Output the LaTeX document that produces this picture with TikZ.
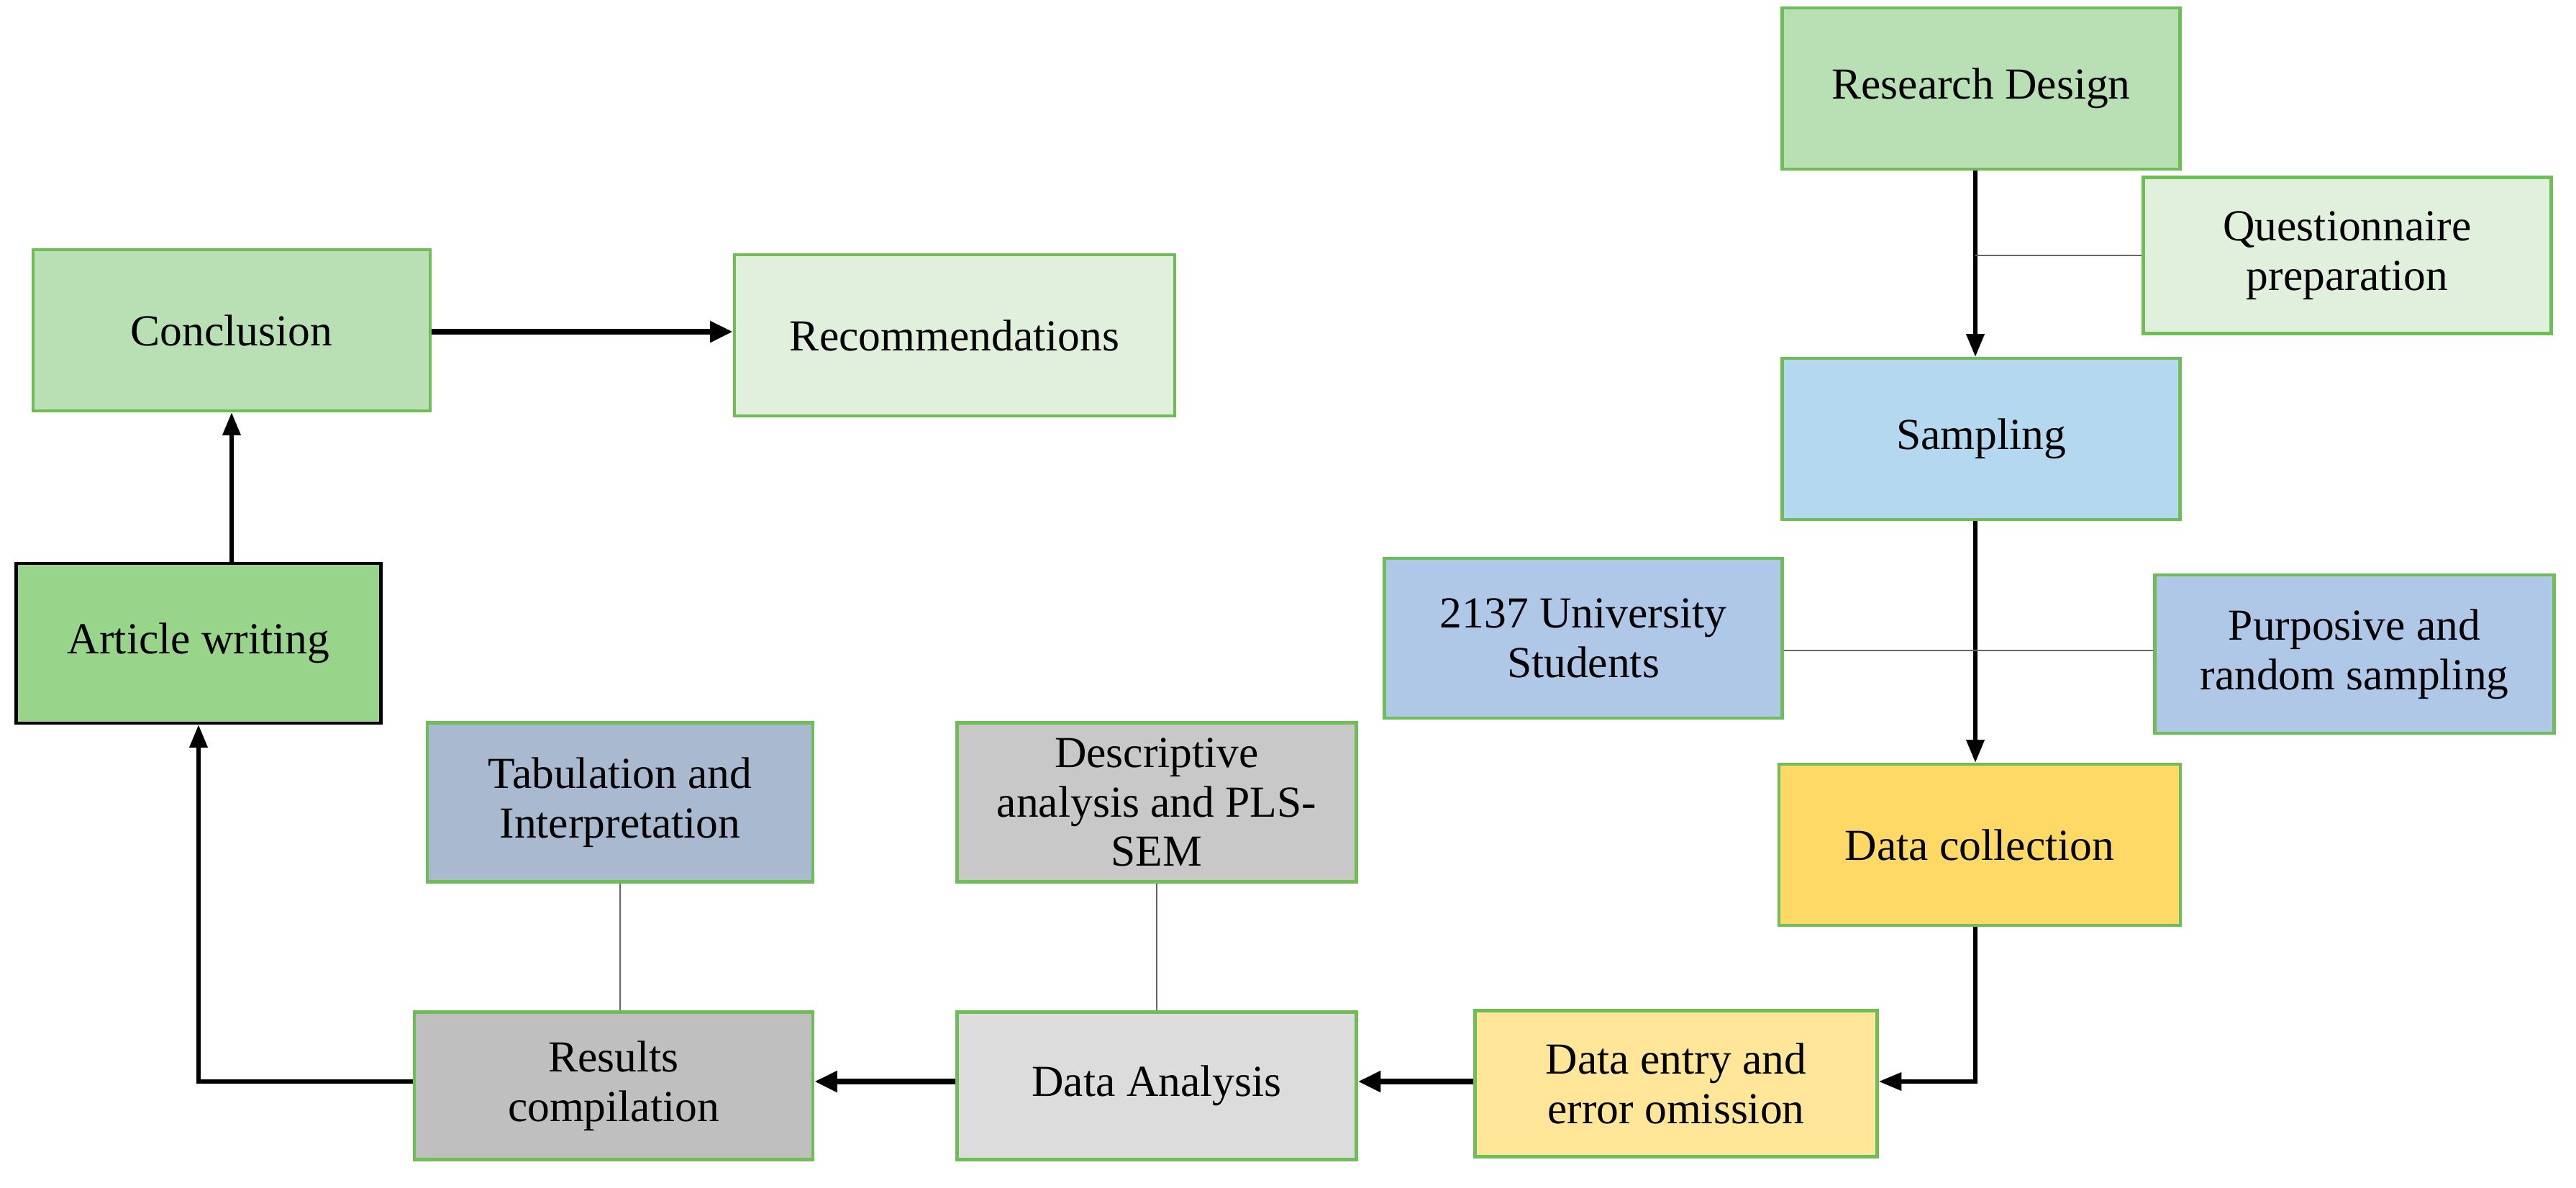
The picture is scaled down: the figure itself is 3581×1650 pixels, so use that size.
\documentclass[tikz,border=0pt]{standalone}
\usepackage{fontspec}
\setmainfont{Liberation Serif}
\usepackage{xcolor}
\usepackage{tikz}
\usetikzlibrary{arrows.meta,positioning}
\definecolor{borde}{HTML}{6DBE57}
\definecolor{verde}{HTML}{B9E0B4}
\definecolor{verdeclaro}{HTML}{E0F0DC}
\definecolor{verdefuerte}{HTML}{98D48A}
\definecolor{celeste}{HTML}{B4D8F0}
\definecolor{azul}{HTML}{AFC8E8}
\definecolor{amarillo}{HTML}{FFD966}
\definecolor{amarilloclaro}{HTML}{FFE699}
\definecolor{grisclaro}{HTML}{DCDCDC}
\definecolor{gris}{HTML}{C8C8C8}
\definecolor{grisoscuro}{HTML}{BFBFBF}
\definecolor{pizarra}{HTML}{A9B9CF}

\begin{document}
\begin{tikzpicture}[x=0.01cm, y=-0.01cm,
  caja/.style={draw=borde, line width=1.3pt, align=center, inner sep=2pt,
               font=\fontsize{17.5}{19.5}\selectfont},
  flecha/.style={-{Triangle[length=9pt,width=7pt]}, line width=1.5pt, black},
  flechag/.style={-{Triangle[length=9pt,width=8pt]}, line width=2.2pt, black},
  enlace/.style={draw=black!60, line width=0.6pt}]
\useasboundingbox (0,0) rectangle (3581,1650);
% right column
\node[caja, fill=verde, minimum width=553*0.01cm, minimum height=224*0.01cm] (rd) at (2754,123) {Research Design};
\node[caja, fill=verdeclaro, minimum width=567*0.01cm, minimum height=217*0.01cm] (qp) at (3263,355) {Questionnaire\\preparation};
\node[caja, fill=celeste, minimum width=553*0.01cm, minimum height=224*0.01cm] (sm) at (2754,610) {Sampling};
\node[caja, fill=azul, minimum width=553*0.01cm, minimum height=222*0.01cm] (us) at (2201,887) {2137 University\\Students};
\node[caja, fill=azul, minimum width=555*0.01cm, minimum height=220*0.01cm] (pr) at (3273,909) {Purposive and\\random sampling};
\node[caja, fill=amarillo, minimum width=558*0.01cm, minimum height=224*0.01cm] (dc) at (2752,1174) {Data collection};
% bottom row
\node[caja, fill=amarilloclaro, minimum width=559*0.01cm, minimum height=203*0.01cm] (de) at (2330,1506) {Data entry and\\error omission};
\node[caja, fill=grisclaro, minimum width=555*0.01cm, minimum height=205*0.01cm] (da) at (1608,1509) {Data Analysis};
\node[caja, fill=gris, minimum width=555*0.01cm, minimum height=221*0.01cm] (ds) at (1608,1115) {Descriptive\\analysis and PLS-\\SEM};
\node[caja, fill=grisoscuro, minimum width=554*0.01cm, minimum height=205*0.01cm] (rc) at (853,1509) {Results\\compilation};
\node[caja, fill=pizarra, minimum width=536*0.01cm, minimum height=221*0.01cm] (ti) at (862,1115) {Tabulation and\\Interpretation};
% left column
\node[caja, draw=black, fill=verdefuerte, minimum width=507*0.01cm, minimum height=222*0.01cm] (aw) at (276,894) {Article writing};
\node[caja, fill=verde, minimum width=552*0.01cm, minimum height=224*0.01cm] (co) at (322,459) {Conclusion};
\node[caja, fill=verdeclaro, minimum width=612*0.01cm, minimum height=224*0.01cm] (re) at (1327,466) {Recommendations};
% flow
\draw[flecha] (rd.south -| 2746,0) -- (sm.north -| 2746,0);
\draw[enlace] (qp.west) -- (qp.west -| 2746,0);
\draw[flecha] (sm.south -| 2746,0) -- (dc.north -| 2746,0);
\draw[enlace] (us.east |- 0,904) -- (pr.west |- 0,904);
\draw[flecha] (dc.south -| 2746,0) |- (de.east |- 0,1503);
\draw[flechag] (de.west |- 0,1503) -- (da.east |- 0,1503);
\draw[flechag] (da.west |- 0,1503) -- (rc.east |- 0,1503);
\draw[enlace] (ds) -- (da);
\draw[enlace] (ti.south) -- (ti.south |- rc.north);
\draw[flecha] (rc.west |- 0,1503) -| (aw.south);
\draw[flecha] (aw.north -| co.south) -- (co.south);
\draw[flechag] (co.east |- 0,461) -- (re.west |- 0,461);
\end{tikzpicture}
\end{document}
